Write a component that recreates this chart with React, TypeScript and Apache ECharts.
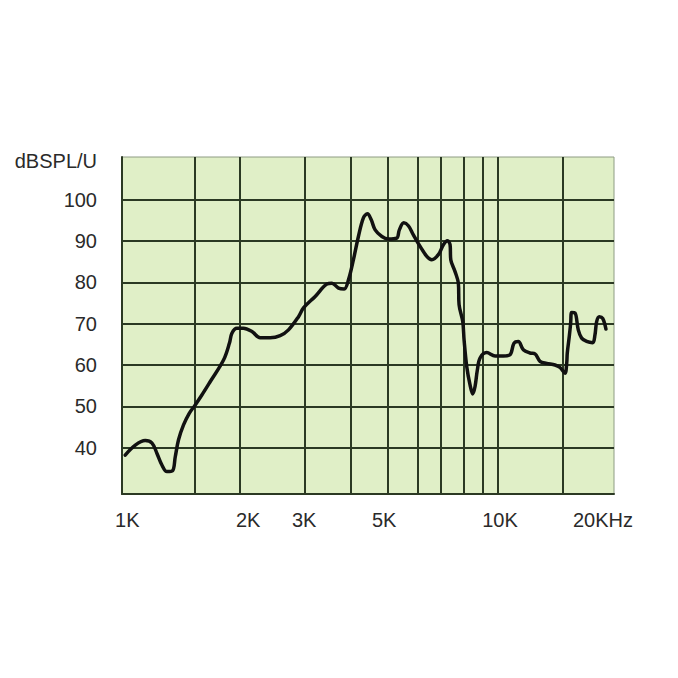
import React, { useEffect, useRef } from "react";
import * as echarts from "echarts";

// Frequency response curve
const freqHz = [
  1020, 1085, 1153, 1202, 1239, 1277, 1317, 1363, 1386, 1414, 1458, 1510, 1560, 1633, 1718,
  1863, 1932, 1961, 2022, 2105, 2217, 2332, 2480, 2636, 2774, 2950, 3041, 3267, 3510, 3619,
  3769, 3902, 4006, 4130, 4258, 4390, 4499, 4603, 4718, 4916, 5117, 5386, 5472, 5623, 5783,
  5963, 6214, 6474, 6675, 6950, 7166, 7345, 7467, 7499, 7698, 7856, 7890, 8070, 8136, 8271,
  8439, 8580, 8702, 8825, 8973, 9348, 9836, 10349, 10782, 11050, 11345, 11697, 12187, 12566,
  12957, 13499, 14203, 14645, 15100, 15258, 15314, 15501, 15634, 15730, 16052, 16380, 16722,
  17245, 17889, 18145, 18333, 18628, 19023, 19409,
];
const splDb = [
  38.2, 40.6, 41.7, 41.1, 38.6, 35.8, 34.2, 34.4, 37.8, 41.9, 45.5, 48.3, 50.1, 52.8, 56.0,
  61.2, 65.3, 67.7, 68.9, 68.9, 68.1, 66.6, 66.6, 67.1, 68.5, 71.7, 73.8, 76.6, 79.6, 79.8,
  78.6, 78.4, 80.6, 85.5, 91.1, 95.6, 96.6, 95.2, 92.7, 91.1, 90.5, 90.7, 92.7, 94.4, 93.7,
  91.5, 88.7, 86.3, 85.5, 86.7, 89.1, 90.1, 89.1, 85.5, 82.6, 79.8, 74.6, 70.5, 66.1, 59.6,
  55.2, 53.0, 54.8, 58.8, 61.7, 63.0, 62.2, 62.2, 62.5, 65.3, 65.7, 63.7, 62.9, 62.7,
  60.9, 60.4, 60.0, 59.4, 58.0, 60.4, 62.9, 66.9, 70.1, 72.7, 72.6, 68.5, 66.5,
  65.7, 65.4, 67.3, 70.5, 71.7, 71.3, 68.7,
];

// Axis ticks / labels
const yTicks = [40, 50, 60, 70, 80, 90, 100];
const xGridFreqs = [1566, 2064, 3059, 4064, 5086, 6113, 7067, 8100, 9100, 10000, 14853];
const xLabelFreqs = [1033, 2167, 3053, 4985, 10141, 19055];
const xLabels = ["1K", "2K", "3K", "5K", "10K", "20KHz"];
const yAxisTitle = "dBSPL/U";

const X_MIN = 1000;
const X_MAX = 20390;
const Y_MIN = 28.78;
const Y_MAX = 110.34;

export default function App() {
  const ref = useRef<HTMLDivElement>(null);
  useEffect(() => {
    if (!ref.current) return;
    const chart = echarts.init(ref.current, null, { renderer: "svg" });
    const gridColor = "#2b3923";
    const font = "Liberation Sans, Arial, sans-serif";
    const textColor = "#2a2a2a";
    chart.setOption({
      animation: false,
      backgroundColor: "#ffffff",
      grid: {
        left: 122,
        right: 64,
        top: 157,
        bottom: 184,
        show: true,
        backgroundColor: "#e0efc7",
        borderColor: "#8e9c84",
        borderWidth: 1,
      },
      graphic: [
        {
          type: "text",
          x: 97,
          y: 161,
          style: {
            text: yAxisTitle,
            fill: textColor,
            font: `20px ${font}`,
            textAlign: "right",
            textVerticalAlign: "middle",
          },
        },
      ],
      xAxis: {
        type: "log",
        min: X_MIN,
        max: X_MAX,
        axisLine: { show: true, lineStyle: { color: gridColor, width: 2 } },
        axisTick: { show: false },
        splitLine: { show: false },
        minorSplitLine: { show: false },
        axisLabel: {
          customValues: xLabelFreqs,
          margin: 16,
          color: textColor,
          fontSize: 20,
          fontFamily: font,
          formatter: (v: number) => {
            let best = 0;
            let bd = Infinity;
            xLabelFreqs.forEach((f, i) => {
              const d = Math.abs(Math.log(f) - Math.log(v));
              if (d < bd) {
                bd = d;
                best = i;
              }
            });
            return xLabels[best];
          },
        },
      },
      yAxis: {
        type: "value",
        min: Y_MIN,
        max: Y_MAX,
        axisLine: { show: true, lineStyle: { color: gridColor, width: 2 } },
        axisTick: { show: false },
        splitLine: { show: false },
        axisLabel: {
          customValues: yTicks,
          margin: 25,
          color: textColor,
          fontSize: 20,
          fontFamily: font,
          formatter: (v: number) => String(Math.round(v)),
        },
      },
      series: [
        {
          type: "line",
          data: [[X_MIN, Y_MIN]],
          symbol: "none",
          lineStyle: { width: 0 },
          silent: true,
          z: 1,
          markLine: {
            silent: true,
            symbol: ["none", "none"],
            label: { show: false },
            lineStyle: { color: gridColor, width: 2, type: "solid" },
            data: [
              ...yTicks.map((v) => ({ yAxis: v })),
              ...xGridFreqs.map((f) => ({ xAxis: f })),
            ],
          },
        },
        {
          type: "line",
          z: 5,
          data: freqHz.map((f, i) => [f, splDb[i]]),
          symbol: "none",
          smooth: 0.35,
          lineStyle: { color: "#111111", width: 3.5, join: "round", cap: "round" },
        },
      ],
    });
    return () => chart.dispose();
  }, []);
  return (
    <div
      ref={ref}
      style={{ position: "fixed", left: 0, top: 0, width: 678, height: 678 }}
    />
  );
}
